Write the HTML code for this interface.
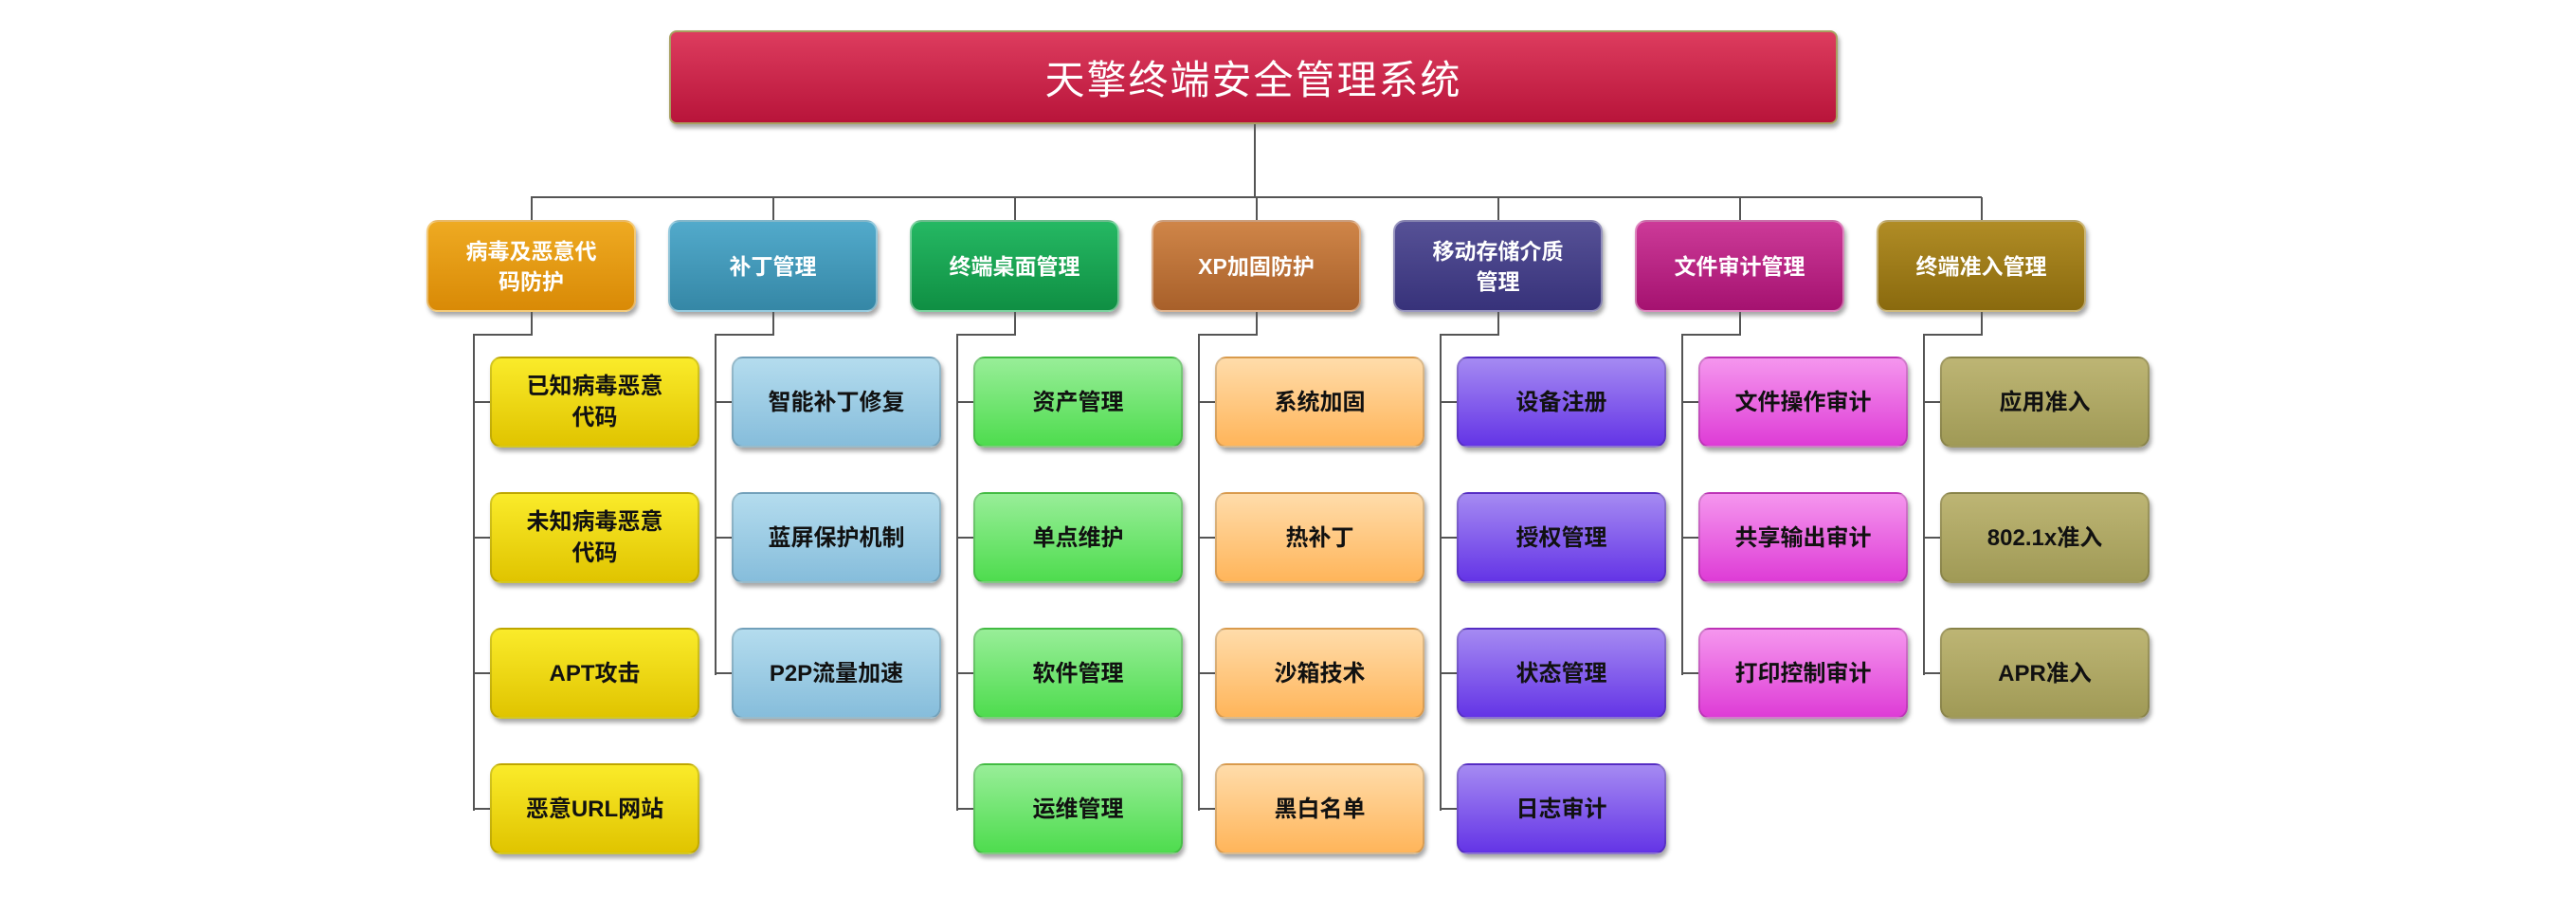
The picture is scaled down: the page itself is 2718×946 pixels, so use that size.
<!DOCTYPE html>
<html><head><meta charset="utf-8"><style>
body{margin:0;width:2718px;height:946px;background:#fff;position:relative;overflow:hidden;font-family:"Liberation Sans","Noto Sans CJK SC",sans-serif}
.b{position:absolute;display:flex;align-items:center;justify-content:center;text-align:center;border-radius:12px;box-sizing:border-box;font-weight:bold;box-shadow:2px 4px 5px rgba(0,0,0,.35)}
.l1{top:232px;width:221px;height:97px;color:#fff;font-size:23px;line-height:32px;border:2px solid rgba(255,255,255,.4)}
.l2{width:221px;height:96px;color:#111;font-size:24px;line-height:33px;border:2px solid rgba(0,0,0,.15)}
.h{position:absolute;height:2px;background:#555}
.v{position:absolute;width:2px;background:#555}
</style></head><body>
<div class="b" style="left:706px;top:32px;width:1233px;height:99px;background:linear-gradient(#dd3c5e,#b8143a);border:2px solid #a8a060;border-radius:8px;color:#fff;font-size:42px;font-weight:normal;letter-spacing:2px">天擎终端安全管理系统</div>
<div class="v" style="left:1323px;top:131px;height:78px"></div>
<div class="h" style="left:560px;top:207px;width:1531px"></div>
<div id="c"></div>
<script>
var cols=[
["病毒及恶意代<br>码防护",["#eeaa22","#d98a06"],["#faeb2a","#e0c400"],["已知病毒恶意<br>代码","未知病毒恶意<br>代码","APT攻击","恶意URL网站"]],
["补丁管理",["#52aacb","#3587a6"],["#b4dcee","#86bddb"],["智能补丁修复","蓝屏保护机制","P2P流量加速"]],
["终端桌面管理",["#25b863","#0f8f43"],["#98ee98","#4edc4e"],["资产管理","单点维护","软件管理","运维管理"]],
["XP加固防护",["#cf8548","#a8602a"],["#ffdcaa","#ffb55a"],["系统加固","热补丁","沙箱技术","黑白名单"]],
["移动存储介质<br>管理",["#565196","#37327a"],["#a58af2","#6434e6"],["设备注册","授权管理","状态管理","日志审计"]],
["文件审计管理",["#cc3a98","#a51270"],["#f596ee","#de3cd6"],["文件操作审计","共享输出审计","打印控制审计"]],
["终端准入管理",["#b08c25","#8a6a0e"],["#bdb574","#a09a56"],["应用准入","802.1x准入","APR准入"]]];
var tops=[376,519,662,805],h="";
cols.forEach(function(c,i){
var x=450+255*i,cx=x+110,lx=499+255*i;
h+='<div class="v" style="left:'+cx+'px;top:208px;height:25px"></div>';
h+='<div class="b l1" style="left:'+x+'px;background:linear-gradient('+c[1][0]+','+c[1][1]+')">'+c[0]+'</div>';
h+='<div class="v" style="left:'+cx+'px;top:329px;height:25px"></div>';
h+='<div class="h" style="left:'+lx+'px;top:352px;width:'+(cx-lx+2)+'px"></div>';
var last=tops[c[3].length-1]+48;
h+='<div class="v" style="left:'+lx+'px;top:352px;height:'+(last-352+2)+'px"></div>';
c[3].forEach(function(t,j){
h+='<div class="h" style="left:'+lx+'px;top:'+(tops[j]+47)+'px;width:20px"></div>';
h+='<div class="b l2" style="left:'+(517+255*i)+'px;top:'+tops[j]+'px;background:linear-gradient('+c[2][0]+','+c[2][1]+')">'+t+'</div>';
});
});
document.getElementById("c").innerHTML=h;
</script>
</body></html>
